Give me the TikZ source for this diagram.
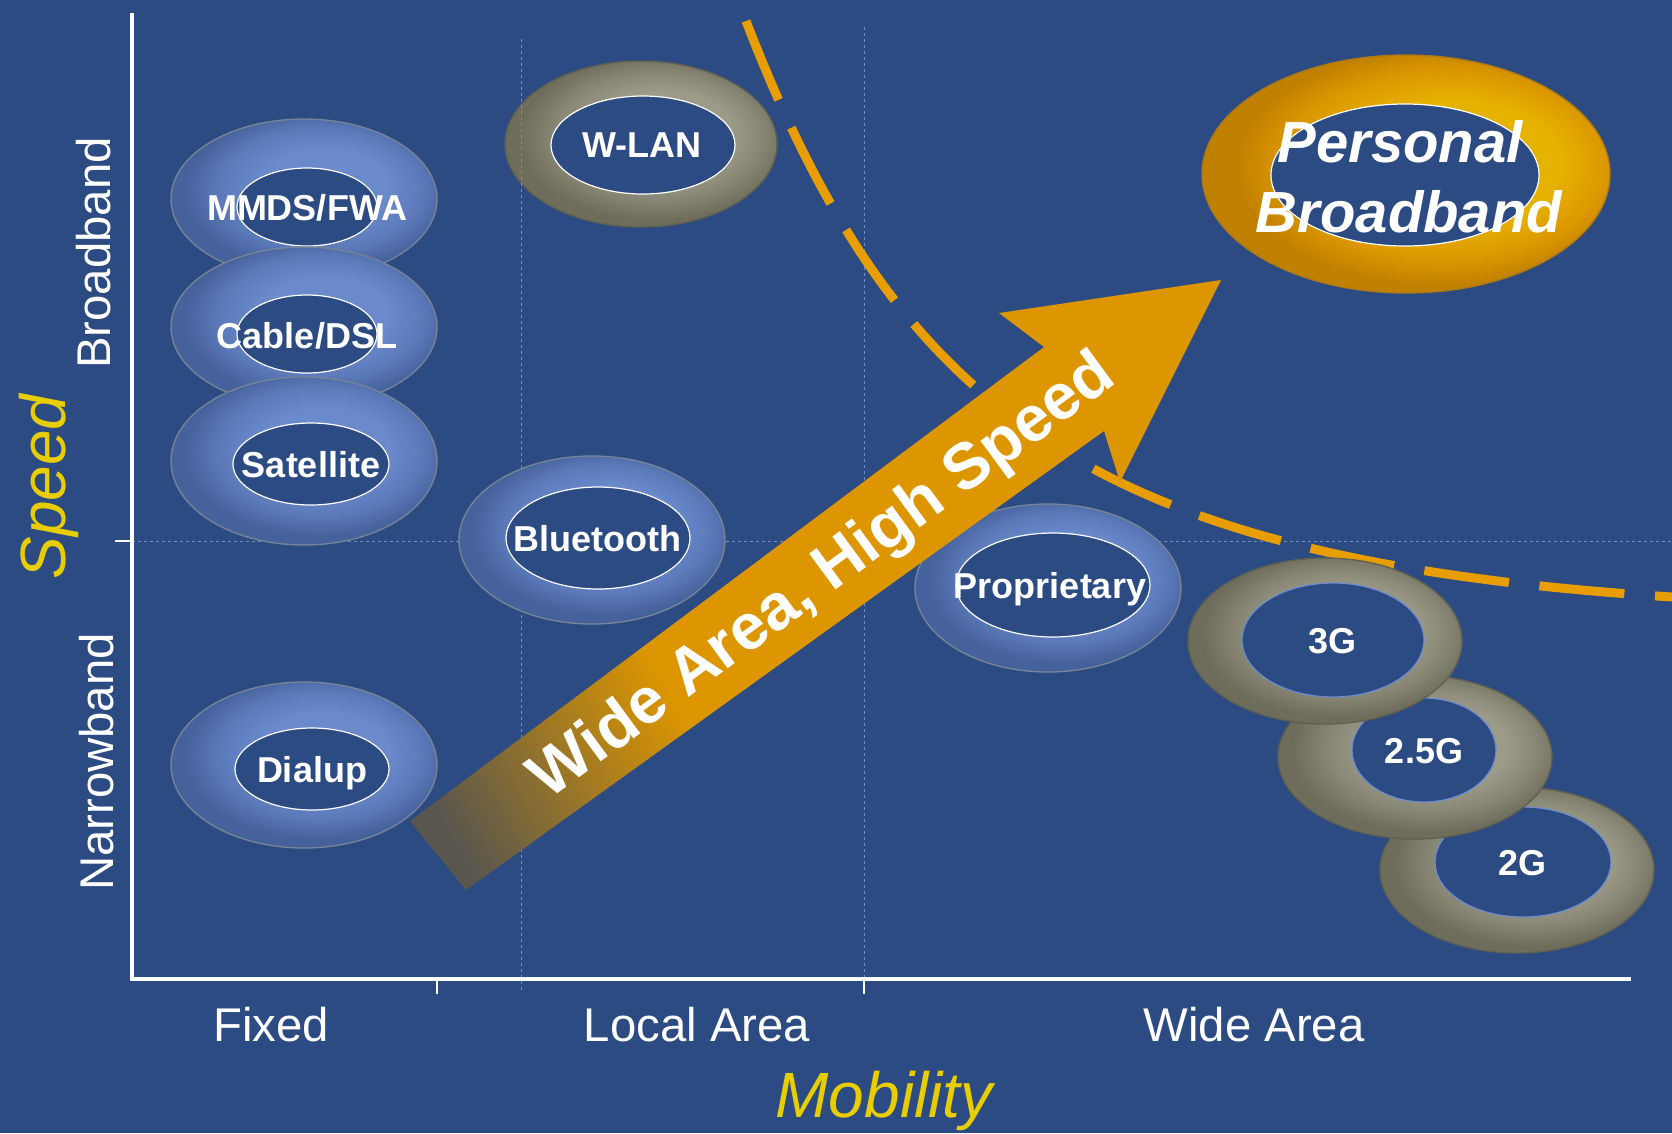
\documentclass[tikz,border=0pt]{standalone}
\usepackage{fontspec}
\setmainfont{Liberation Sans}

\definecolor{bgblue}{RGB}{45,75,131}
\definecolor{gridblue}{RGB}{112,142,198}
\definecolor{axisyellow}{RGB}{232,206,0}
\definecolor{dashorange}{RGB}{232,157,0}
\definecolor{arroworange}{RGB}{221,150,0}
\definecolor{arrowdark}{RGB}{88,86,78}
\definecolor{bluelt}{RGB}{106,138,204}
\definecolor{bluemd}{RGB}{92,122,186}
\definecolor{bluedk}{RGB}{70,98,156}
\definecolor{blueedge}{RGB}{120,132,150}
\definecolor{graylt}{RGB}{156,154,136}
\definecolor{graymd}{RGB}{136,134,116}
\definecolor{graydk}{RGB}{110,109,92}
\definecolor{grayedge}{RGB}{96,96,80}
\definecolor{goldlt}{RGB}{230,178,0}
\definecolor{goldmd}{RGB}{219,150,0}
\definecolor{golddk}{RGB}{192,128,0}
\definecolor{goldedge}{RGB}{170,120,20}
\definecolor{holeedge}{RGB}{110,140,205}

\pgfdeclareradialshading{bluetorus}{\pgfpoint{5bp}{5bp}}{color(0bp)=(bluelt); color(12bp)=(bluelt); color(19bp)=(bluemd); color(25bp)=(bluedk); color(50bp)=(bluedk)}
\pgfdeclareradialshading{graytorus}{\pgfpoint{5bp}{4bp}}{color(0bp)=(graylt); color(13bp)=(graylt); color(19bp)=(graymd); color(25bp)=(graydk); color(50bp)=(graydk)}
\pgfdeclareradialshading{goldtorus}{\pgfpoint{8bp}{3bp}}{color(0bp)=(goldlt); color(13bp)=(goldlt); color(20bp)=(goldmd); color(25bp)=(golddk); color(50bp)=(golddk)}
\pgfdeclarehorizontalshading{arrowfade}{100bp}{color(0bp)=(arrowdark); color(20bp)=(arrowdark); color(38bp)=(arroworange); color(100bp)=(arroworange)}

\tikzset{every picture/.style={line width=0.75pt}}
\tikzset{
  bluering/.style={shading=bluetorus, draw=blueedge, line width=1},
  grayring/.style={shading=graytorus, draw=grayedge, line width=1},
  goldring/.style={shading=goldtorus, draw=goldedge, line width=1},
  hole/.style={fill=bgblue, draw=white, line width=0.9},
  darkhole/.style={fill=bgblue, draw=holeedge, line width=0.9},
  ringlabel/.style={anchor=base, inner sep=0pt, text=white, font=\bfseries\fontsize{27}{32}\selectfont},
  biglabel/.style={anchor=base, inner sep=0pt, text=white, font=\bfseries\itshape\fontsize{43.5}{52}\selectfont},
  ticklabel/.style={anchor=base, inner sep=0pt, text=white, font=\fontsize{35.5}{43}\selectfont},
  axistitle/.style={anchor=base, inner sep=0pt, text=axisyellow, font=\itshape\fontsize{48}{58}\selectfont},
  gridline/.style={draw=gridblue, line width=0.6, dash pattern=on 2.5pt off 2pt},
  axisline/.style={draw=white, line width=2.5},
  dashcurve/.style={draw=dashorange, line width=6.75, dash pattern=on 64pt off 23pt},
}

\begin{document}
\begin{tikzpicture}[x=0.75pt,y=0.75pt,yscale=-1,xscale=1]
\useasboundingbox (0,0) rectangle (1672,1133);
\fill[bgblue] (0,0) rectangle (1672,1133);

%Shape: Ellipse (W-LAN ring, under the grid)
\shadedraw[grayring] (641,144) ellipse [x radius=136, y radius=83];
\draw[hole] (643,145) ellipse [x radius=92, y radius=49];

%Straight Lines (grid)
\draw[gridline] (132,541) -- (1672,541);
\draw[gridline] (521,39) -- (521,992);
\draw[gridline] (864,27) -- (864,979);

%Straight Lines (axes)
\draw[axisline] (132,13) -- (132,979) -- (1631,979);
\draw[axisline, line width=2] (115,541) -- (132,541);
\draw[axisline, line width=2] (437,979) -- (437,994);
\draw[axisline, line width=2] (864,979) -- (864,994);

% Text Node
\node[ticklabel] (fixed) at (271,1041) {Fixed};
\node[ticklabel] (localarea) at (697,1041) {Local Area};
\node[ticklabel] (widearea) at (1254,1041) {Wide Area};
\node[axistitle] (mobility) at (884,1117) {Mobility};
\node[axistitle, rotate=90] (speed) at (65,487) {Speed};
\node[ticklabel, rotate=90] (broadbandaxis) at (110,253) {Broadband};
\node[ticklabel, rotate=90] (narrowband) at (113,762) {Narrowband};

%Curve Lines (frontier)
\draw[dashcurve] (746,21) .. controls (900,420) and (1100,560) .. (1672,597);

%Shape: Ellipse (fixed access)
\shadedraw[bluering] (304,199) ellipse [x radius=133, y radius=80];
\draw[hole] (307,207) ellipse [x radius=70, y radius=39];
\node[ringlabel] (mmds) at (307,220) {MMDS/FWA};
\shadedraw[bluering] (304,327) ellipse [x radius=133, y radius=80];
\draw[hole] (307,334) ellipse [x radius=70, y radius=39];
\node[ringlabel] (cable) at (307,348) {Cable/DSL};
\shadedraw[bluering] (304,461) ellipse [x radius=133, y radius=84];
\draw[hole] (311,464) ellipse [x radius=78, y radius=41];
\node[ringlabel] (satellite) at (311,477) {Satellite};
\shadedraw[bluering] (304,765) ellipse [x radius=133, y radius=83];
\draw[hole] (312,769) ellipse [x radius=77, y radius=41];
\node[ringlabel] (dialup) at (312,782) {Dialup};

%Shape: Ellipse (local area)
\node[ringlabel] (wlan) at (642,157) {W-LAN};
\shadedraw[bluering] (592,540) ellipse [x radius=133, y radius=84];
\draw[hole] (598,538) ellipse [x radius=92, y radius=51];
\node[ringlabel] (bluetooth) at (597,551) {Bluetooth};

%Shape: Ellipse (wide area)
\shadedraw[bluering] (1048,588) ellipse [x radius=133, y radius=84];
\draw[hole] (1053,585) ellipse [x radius=97, y radius=52];
\node[ringlabel] (proprietary) at (1050,598) {Proprietary};
\shadedraw[grayring] (1517,870) ellipse [x radius=137, y radius=83];
\draw[darkhole] (1523,862) ellipse [x radius=88, y radius=55];
\node[ringlabel] (twog) at (1522,875) {2G};
\shadedraw[grayring] (1415,757) ellipse [x radius=137, y radius=82];
\draw[darkhole] (1424,750) ellipse [x radius=72, y radius=52];
\node[ringlabel] (twofiveg) at (1424,763) {2.5G};
\shadedraw[grayring] (1325,641) ellipse [x radius=137, y radius=83];
\draw[darkhole] (1333,640) ellipse [x radius=91, y radius=57];
\node[ringlabel] (threeg) at (1332,653) {3G};

%Shape: Ellipse (goal)
\shadedraw[goldring] (1406,174) ellipse [x radius=204, y radius=119];
\draw[hole] (1405,175) ellipse [x radius=134, y radius=71];
\node[biglabel] (personal) at (1400,162) {Personal};
\node[biglabel] (broadband) at (1409,232) {Broadband};

%Shape: Arrow
\shade[shading=arrowfade, shading angle=29] (410,821) -- (1044,347) -- (999,313) -- (1221,280) -- (1120,482) -- (1104,431) -- (466,890) -- cycle;
\node[inner sep=0pt, text=white, font=\bfseries\fontsize{48.5}{58}\selectfont, rotate=36.3] (trend) at (824,578) {Wide Area, High Speed};

\end{tikzpicture}
\end{document}
